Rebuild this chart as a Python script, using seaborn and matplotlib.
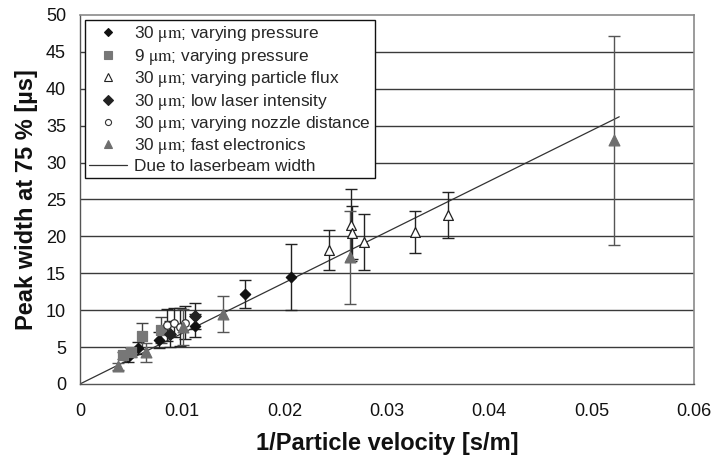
import numpy as np
import pandas as pd
import matplotlib
matplotlib.use("Agg")
import matplotlib.pyplot as plt
import seaborn as sns
from matplotlib.lines import Line2D

sns.set_theme(style="white")
plt.rcParams["font.family"] = ["Liberation Sans", "DejaVu Sans"]
plt.rcParams["mathtext.fontset"] = "stix"

# --- measured peak widths (x: 1/v [s/m], y: width [us], e: error [us]) ---
p30_x = [0.0047, 0.0057, 0.0077, 0.0112, 0.0161, 0.0206]
p30_y = [3.6, 4.9, 6.0, 7.9, 12.2, 14.5]
p30_e = [0.6, 0.8, 1.1, 1.6, 1.9, 4.5]

p9_x = [0.0042, 0.0050, 0.0061, 0.0079]
p9_y = [3.9, 4.3, 6.5, 7.3]
p9_e = [0.5, 0.6, 1.8, 1.8]

flux_x = [0.0243, 0.0265, 0.0266, 0.0278, 0.0327, 0.0360]
flux_y = [18.2, 21.5, 20.5, 19.2, 20.6, 22.9]
flux_e = [2.7, 4.9, 3.6, 3.8, 2.8, 3.1]

low_x = [0.0088, 0.0112]
low_y = [6.8, 9.2]
low_e = [1.8, 1.8]

nozzle_x = [0.0085, 0.0092, 0.0098, 0.0103]
nozzle_y = [8.0, 8.3, 7.7, 8.3]
nozzle_e = [2.2, 2.0, 2.6, 2.2]

fast_x = [0.0037, 0.0065, 0.0101, 0.0140, 0.0264, 0.0522]
fast_y = [2.4, 4.3, 7.7, 9.5, 17.2, 33.0]
fast_e = [0.5, 1.3, 2.4, 2.4, 6.3, 14.2]

# laser-beam-width limit (straight line through origin)
beam_x = [0.0, 0.0527]
beam_y = [0.0, 36.2]

x_ticks = [0.0, 0.01, 0.02, 0.03, 0.04, 0.05, 0.06]
x_tick_labels = ["0", "0.01", "0.02", "0.03", "0.04", "0.05", "0.06"]

mu = r"$\mathrm{\mu m}$"
labels = [
    f"30 {mu}; varying pressure",
    f"9 {mu}; varying pressure",
    f"30 {mu}; varying particle flux",
    f"30 {mu}; low laser intensity",
    f"30 {mu}; varying nozzle distance",
    f"30 {mu}; fast electronics",
]

series = [
    (p30_x, p30_y, p30_e, "D", "#111111", "#111111", 28, "#222222"),
    (p9_x, p9_y, p9_e, "s", "#777777", "#777777", 45, "#444444"),
    (flux_x, flux_y, flux_e, "^", "white", "#222222", 50, "#222222"),
    (low_x, low_y, low_e, "D", "#222222", "#222222", 34, "#222222"),
    (nozzle_x, nozzle_y, nozzle_e, "o", "white", "#333333", 30, "#222222"),
    (fast_x, fast_y, fast_e, "^", "#6e6e6e", "#6e6e6e", 60, "#555555"),
]

fig = plt.figure(figsize=(7.16, 4.66), dpi=100)
ax = fig.add_axes([0.1117, 0.176, 0.8575, 0.792])

for yv in np.arange(5, 50, 5):
    ax.axhline(yv, color="#3a3a3a", lw=1.0, zorder=0)

sns.lineplot(x=beam_x, y=beam_y, ax=ax, color="#333333", lw=0.9, zorder=2)

for (xs, ys, es, mk, fc, ec, sz, errc), lab in zip(series, labels):
    ax.errorbar(xs, ys, yerr=es, fmt="none", ecolor=errc, elinewidth=1.0,
                capsize=4, capthick=1.0, zorder=3)
    df = pd.DataFrame({"x": xs, "y": ys})
    sns.scatterplot(data=df, x="x", y="y", ax=ax, marker=mk, s=sz,
                    color=fc, edgecolor=ec, linewidth=0.9, zorder=4)

ax.set_xlim(0, 0.06)
ax.set_ylim(0, 50)
ax.set_xticks(x_ticks)
ax.set_xticklabels(x_tick_labels)
ax.set_yticks(np.arange(0, 51, 5))
ax.tick_params(axis="both", direction="out", length=5, width=1,
               color="#333333", labelsize=13, labelcolor="#111111", pad=5)
ax.tick_params(axis="x", pad=9)

for side in ["top", "right"]:
    ax.spines[side].set_color("#8a8a8a")
    ax.spines[side].set_linewidth(1.2)
for side in ["left", "bottom"]:
    ax.spines[side].set_color("#555555")
    ax.spines[side].set_linewidth(1.0)

ax.set_xlabel("1/Particle velocity [s/m]", fontsize=17, fontweight="bold",
              labelpad=8, color="#111111")
ax.set_ylabel("Peak width at 75 % [µs]", fontsize=17, fontweight="bold",
              labelpad=6, color="#111111")

handles = []
for (xs, ys, es, mk, fc, ec, sz, errc), lab in zip(series, labels):
    handles.append(Line2D([], [], ls="none", marker=mk, markersize=np.sqrt(sz) * 0.8,
                          markerfacecolor=fc, markeredgecolor=ec, markeredgewidth=0.8,
                          label=lab))
handles.append(Line2D([], [], color="#333333", lw=0.9, label="Due to laserbeam width"))

leg = ax.legend(handles=handles, loc="upper left", bbox_to_anchor=(0.0, 1.0),
                fontsize=12.4, frameon=True, fancybox=False, borderpad=0.25,
                labelspacing=0.14, handlelength=2.2, handletextpad=0.4,
                borderaxespad=0.3)
leg.get_frame().set_edgecolor("#111111")
leg.get_frame().set_linewidth(1.0)
leg.get_frame().set_facecolor("white")
leg.get_frame().set_alpha(1.0)
leg.set_zorder(10)

fig.savefig("out.png", dpi=100, facecolor="white")
